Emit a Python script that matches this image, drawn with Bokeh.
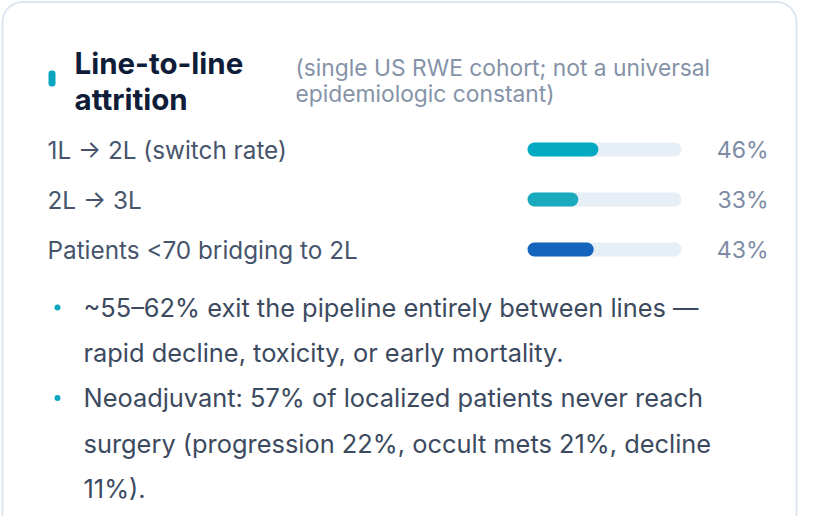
from bokeh.plotting import figure
from bokeh.models import ColumnDataSource
from bokeh.core.properties import value
from bokeh.embed import file_html
from bokeh.resources import INLINE

# data
title_lines = ["Line-to-line", "attrition"]
subtitle_lines = ["(single US RWE cohort; not a universal", "epidemiologic constant)"]
row_labels = ["1L \u2192 2L (switch rate)", "2L \u2192 3L", "Patients <70 bridging to 2L"]
row_values = [46, 33, 43]
row_colors = ["#03a9c1", "#1aaabd", "#1463bd"]
bullets = [
    ["~55\u201362% exit the pipeline entirely between lines \u2014",
     "rapid decline, toxicity, or early mortality."],
    ["Neoadjuvant: 57% of localized patients never reach",
     "surgery (progression 22%, occult mets 21%, decline",
     "11%)."],
]

FONT = value("Inter")

W, H = 798, 516
p = figure(width=W, height=H, x_range=(0, W), y_range=(H, 0),
           output_backend="svg", toolbar_location=None, min_border=0)
p.axis.visible = False
p.grid.visible = False
p.outline_line_color = None
p.background_fill_color = "white"
p.border_fill_color = "white"

# card
p.quad(left=[2], right=[796], top=[1.5], bottom=[640],
       fill_color="white", line_color="#dde6f0", line_width=2, border_radius=20)

# title marker + title
p.quad(left=[48], right=[55], top=[70], bottom=[86],
       fill_color="#0aa5bf", line_color=None, border_radius=3)
p.text(x=[74] * 2, y=[62, 98], text=title_lines, text_font=FONT,
       text_font_size="29.5px", text_font_style="bold", text_color="#0f1d38",
       text_baseline="middle")
p.text(x=[295] * 2, y=[67, 93], text=subtitle_lines, text_font=FONT,
       text_font_size="22.8px", text_color="#8593a8", text_baseline="middle")

# rows
row_y = [149, 199, 249]
track_l, track_r = 527, 681
src = ColumnDataSource(dict(
    y=row_y, label=row_labels, color=row_colors,
    right=[track_l + v / 100 * (track_r - track_l) for v in row_values],
    pct=["%d%%" % v for v in row_values],
))
p.text(x=47, y="y", text="label", source=src, text_font=FONT,
       text_font_size="24.3px", text_color="#46556c", text_baseline="middle")
p.hbar(y="y", left=track_l, right=track_r, height=14, source=src,
       fill_color="#e6eef6", line_color=None, border_radius=7)
p.hbar(y="y", left=track_l, right="right", height=14, source=src,
       fill_color="color", line_color=None, border_radius=7)
p.text(x=768, y="y", text="pct", source=src, text_font=FONT,
       text_font_size="23px", text_color="#7d8ca4", text_baseline="middle",
       text_align="right")

# bullets
line_gap = 45.2
y0 = 307
bx, by, tx, ty, tt = [], [], [], [], []
i = 0
for b in bullets:
    bx.append(57)
    by.append(y0 + i * line_gap)
    for line in b:
        tx.append(83)
        ty.append(y0 + i * line_gap)
        tt.append(line)
        i += 1
p.scatter(x=bx, y=by, size=6, marker="circle", fill_color="#0aa5bf", line_color=None)
p.text(x=tx, y=ty, text=tt, text_font=FONT, text_font_size="25.4px",
       text_color="#3c4a60", text_baseline="middle")

open("out.html", "w").write(file_html(p, INLINE))
